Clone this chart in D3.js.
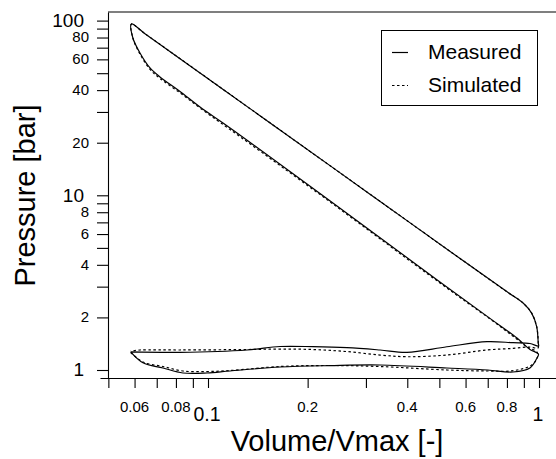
<!DOCTYPE html>
<html>
<head>
<meta charset="utf-8">
<script src="https://cdnjs.cloudflare.com/ajax/libs/d3/7.8.5/d3.min.js"></script>
<style>
  body { margin: 0; background: #fff; }
  svg { display: block; font-family: "Liberation Sans", Arial, sans-serif; }
</style>
</head>
<body>
<div id="chart"></div>
<script>
// one engine cycle each: intake -> compression -> expansion -> exhaust
const measuredVolume = [
  0.0584, 0.0636, 0.0731, 0.0840, 0.0993, 0.1166, 0.165, 0.234, 0.331, 0.527, 0.70, 0.835, 0.939, 0.986,
  0.996, 0.939, 0.858, 0.711, 0.502, 0.234, 0.1166, 0.0946, 0.0823, 0.0716, 0.0668, 0.0623, 0.0593, 0.0587,
  0.0645, 0.165, 0.3086, 0.589, 0.799, 0.897, 0.951, 0.984, 0.995,
  0.997, 0.939, 0.835, 0.6965, 0.527, 0.399, 0.331, 0.263, 0.2076, 0.165, 0.1312, 0.0823, 0.0584
];
const measuredPressure = [
  1.27, 1.10, 1.027, 0.961, 0.961, 0.987, 1.04, 1.06, 1.068, 1.027, 1.0, 0.974, 1.027, 1.171,
  1.235, 1.31, 1.525, 1.975, 3.19, 9.28, 24.3, 32.0, 39.3, 47.6, 53.6, 65.3, 79.5, 95.6,
  84.2, 23.65, 10.15, 4.23, 2.81, 2.41, 2.11, 1.77, 1.42,
  1.372, 1.418, 1.433, 1.452, 1.359, 1.263, 1.302, 1.342, 1.36, 1.363, 1.302, 1.263, 1.27
];
const simulatedVolume = [
  0.0584, 0.0636, 0.0731, 0.0840, 0.0993, 0.1166, 0.165, 0.234, 0.331, 0.527, 0.70, 0.835, 0.951, 0.990,
  0.986, 0.926, 0.858, 0.711, 0.502, 0.234, 0.1166, 0.0946, 0.0823, 0.0716, 0.0668, 0.0623, 0.0593, 0.0587,
  0.0645, 0.165, 0.3086, 0.589, 0.799, 0.897, 0.951, 0.984, 0.995,
  0.993, 0.939, 0.835, 0.6965, 0.527, 0.399, 0.331, 0.263, 0.2076, 0.165, 0.1312, 0.0823, 0.0623, 0.0584
];
const simulatedPressure = [
  1.26, 1.11, 1.047, 0.987, 0.98, 0.993, 1.047, 1.061, 1.047, 1.0, 0.987, 0.991, 1.068, 1.187,
  1.268, 1.345, 1.50, 1.96, 3.15, 9.16, 23.8, 31.6, 38.6, 46.7, 52.6, 64.4, 79.5, 95.6,
  84.2, 23.65, 10.15, 4.23, 2.81, 2.41, 2.11, 1.77, 1.42,
  1.336, 1.354, 1.33, 1.302, 1.218, 1.191, 1.218, 1.275, 1.31, 1.318, 1.31, 1.302, 1.302, 1.285
];

const xTicks = [0.05, 0.06, 0.07, 0.08, 0.09, 0.1, 0.2, 0.3, 0.4, 0.5, 0.6, 0.7, 0.8, 0.9, 1];
const yTicks = [1, 2, 3, 4, 5, 6, 7, 8, 9, 10, 20, 30, 40, 50, 60, 70, 80, 90, 100];
const xMajorLabels = [0.1, 1];
const xMinorLabels = [0.06, 0.08, 0.2, 0.4, 0.6, 0.8];
const yMajorLabels = [1, 10, 100];
const yMinorLabels = [2, 4, 6, 8, 20, 40, 60, 80];
const seriesNames = ["Measured", "Simulated"];

const width = 556, height = 459;

const svg = d3.select("#chart")
  .append("svg")
  .attr("width", width)
  .attr("height", height);

// log scales pinned on the decades, then stretched to where the axis lines end
const x = d3.scaleLog().domain([0.1, 1]).range([208, 539]);
x.domain([x.invert(100), x.invert(556)]).range([100, 556]);

const y = d3.scaleLog().domain([1, 100]).range([370, 20.6]);
y.domain([y.invert(378), y.invert(12)]).range([378, 12]);

// axes
svg.append("g")
  .attr("transform", "translate(0,378)")
  .call(d3.axisBottom(x).tickValues(xTicks).tickSize(10).tickSizeOuter(0).tickFormat(""));

svg.append("g")
  .attr("transform", "translate(108,0)")
  .call(d3.axisLeft(y).tickValues(yTicks).tickSize(11).tickSizeOuter(0).tickFormat(""));

svg.selectAll(".domain, .tick line")
  .attr("stroke", "#000")
  .attr("stroke-width", 1.1);

// top frame line
svg.append("line")
  .attr("x1", 108).attr("x2", width)
  .attr("y1", 12).attr("y2", 12)
  .attr("stroke", "#000")
  .attr("stroke-width", 1.1);

// tick labels
svg.append("g").selectAll("text")
  .data(xMinorLabels)
  .enter()
  .append("text")
  .attr("x", (d) => x(d))
  .attr("y", 411.5)
  .attr("text-anchor", "middle")
  .style("font-size", "15px")
  .text((d) => d);

svg.append("g").selectAll("text")
  .data(xMajorLabels)
  .enter()
  .append("text")
  .attr("x", (d) => x(d) - 1)
  .attr("y", 420.5)
  .attr("text-anchor", "middle")
  .style("font-size", "19.5px")
  .text((d) => d);

svg.append("g").selectAll("text")
  .data(yMinorLabels)
  .enter()
  .append("text")
  .attr("x", 89)
  .attr("y", (d) => y(d))
  .attr("dy", "0.32em")
  .attr("text-anchor", "end")
  .style("font-size", "15px")
  .text((d) => d);

svg.append("g").selectAll("text")
  .data(yMajorLabels)
  .enter()
  .append("text")
  .attr("x", 84)
  .attr("y", (d) => y(d))
  .attr("dy", "0.33em")
  .attr("text-anchor", "end")
  .style("font-size", "19px")
  .text((d) => d);

// axis titles
svg.append("text")
  .attr("x", 337)
  .attr("y", 450.5)
  .attr("text-anchor", "middle")
  .style("font-size", "29px")
  .text("Volume/Vmax [-]");

svg.append("text")
  .attr("transform", "translate(35,195.5) rotate(-90)")
  .attr("text-anchor", "middle")
  .style("font-size", "29px")
  .text("Pressure [bar]");

// cycles
const line = d3.line()
  .x((d) => x(d[0]))
  .y((d) => y(d[1]))
  .curve(d3.curveCatmullRom.alpha(0.5));

svg.append("path")
  .datum(d3.zip(simulatedVolume, simulatedPressure))
  .attr("d", line)
  .attr("fill", "none")
  .attr("stroke", "#000")
  .attr("stroke-width", 1.2)
  .attr("stroke-dasharray", "2.5,2.5");

svg.append("path")
  .datum(d3.zip(measuredVolume, measuredPressure))
  .attr("d", line)
  .attr("fill", "none")
  .attr("stroke", "#000")
  .attr("stroke-width", 1.2);

// legend
const legend = svg.append("g");

legend.append("rect")
  .attr("x", 381.5).attr("y", 30.5)
  .attr("width", 156).attr("height", 75)
  .attr("fill", "#fff")
  .attr("stroke", "#000")
  .attr("stroke-width", 1);

const item = legend.selectAll("g.item")
  .data(seriesNames)
  .enter()
  .append("g")
  .attr("class", "item")
  .attr("transform", (d, i) => `translate(0,${52.5 + i * 33})`);

item.append("line")
  .attr("x1", 392).attr("x2", 408)
  .attr("stroke", "#000")
  .attr("stroke-width", 1.2)
  .attr("stroke-dasharray", (d, i) => (i === 0 ? null : "2.5,2.5"));

item.append("text")
  .attr("x", 428)
  .attr("y", 6)
  .style("font-size", "21px")
  .text((d) => d);
</script>
</body>
</html>
